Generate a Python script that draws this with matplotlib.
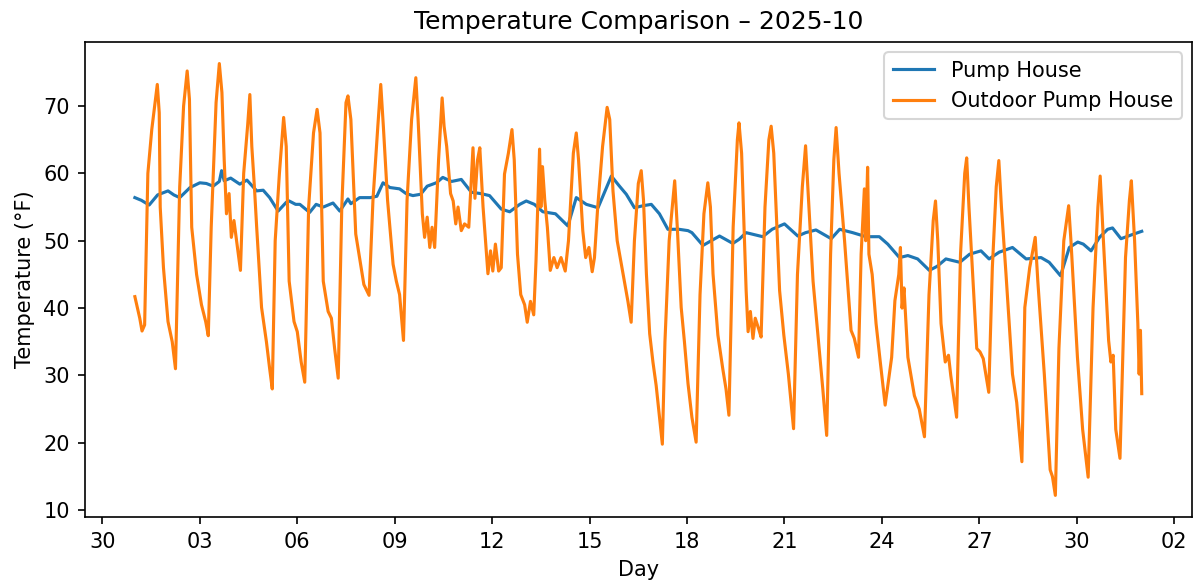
import pandas as pd
import matplotlib
matplotlib.use('Agg')
import matplotlib.pyplot as plt
import matplotlib.dates as mdates

# Readings, as days since 2025-10-01 00:00 and temperature in F
pump_day = [0.00, 0.20, 0.44, 0.70, 1.02, 1.20, 1.38, 1.70, 2.00, 2.20, 2.41, 2.60, 2.67, 2.75, 2.95,
            3.23, 3.45, 3.75, 3.95, 4.15, 4.41, 4.66, 4.75, 4.95, 5.08, 5.38, 5.58, 5.80, 6.10, 6.31,
            6.56, 6.65, 6.92, 7.25, 7.45, 7.64, 7.85, 8.15, 8.35, 8.56, 8.80, 9.00, 9.28, 9.48, 9.75,
            10.05, 10.36, 10.65, 10.92, 11.28, 11.54, 11.85, 12.05, 12.30, 12.56, 12.95, 13.33, 13.59,
            13.90, 14.26, 14.67, 14.92, 15.13, 15.38, 15.65, 15.90, 16.15, 16.41, 16.75, 17.03, 17.15,
            17.49, 18.00, 18.41, 18.60, 18.82, 19.33, 19.62, 20.00, 20.41, 20.65, 20.97, 21.44, 21.70,
            22.10, 22.51, 22.92, 23.18, 23.54, 23.80, 24.10, 24.46, 24.70, 24.97, 25.40, 25.70, 26.05,
            26.30, 26.61, 27.02, 27.44, 27.90, 28.15, 28.50, 28.77, 29.03, 29.20, 29.44, 29.70, 29.95,
            30.10, 30.36, 30.70, 31.00]
pump_temp = [56.4, 56.0, 55.3, 56.8, 57.4, 56.8, 56.4, 57.9, 58.6, 58.5, 58.1, 58.8, 60.4, 58.9, 59.3,
             58.4, 59.0, 57.4, 57.5, 56.4, 54.4, 55.7, 55.9, 55.4, 55.4, 54.2, 55.4, 55.0, 55.6, 54.4,
             56.2, 55.5, 56.4, 56.4, 56.6, 58.6, 57.9, 57.7, 57.0, 56.7, 56.9, 58.1, 58.6, 59.4, 58.8,
             59.1, 57.2, 57.0, 56.7, 54.7, 54.3, 55.4, 55.9, 55.4, 54.3, 54.0, 52.2, 56.4,
             55.4, 54.9, 59.6, 58.1, 56.9, 54.9, 55.2, 55.4, 54.0, 51.7, 51.7, 51.5, 51.2,
             49.3, 50.7, 49.6, 50.2, 51.2, 50.6, 51.7, 52.5, 50.7, 51.2, 51.6, 50.3, 51.7,
             51.2, 50.6, 50.6, 49.5, 47.5, 47.8, 47.3, 45.6, 46.2, 47.3, 46.8, 48.0, 48.5,
             47.3, 48.3, 49.0, 47.3, 47.5, 46.8, 44.8, 49.0, 49.8, 49.5, 48.5, 50.5, 51.7,
             51.9, 50.3, 50.9, 51.4]

outdoor_day = [0.00, 0.08, 0.15, 0.22, 0.30, 0.40, 0.52, 0.62, 0.69, 0.75, 0.78, 0.88, 1.02, 1.15, 1.25,
               1.38, 1.50, 1.61, 1.68, 1.75, 1.90, 2.05, 2.18, 2.26, 2.35, 2.50, 2.60, 2.68, 2.75, 2.82,
               2.90, 2.97, 3.05, 3.13, 3.25, 3.35, 3.47, 3.54, 3.60, 3.68, 3.75, 3.90, 4.05, 4.15, 4.23,
               4.32, 4.45, 4.58, 4.66, 4.75, 4.90, 5.00, 5.12, 5.23, 5.35, 5.50, 5.61, 5.70, 5.80, 5.95,
               6.05, 6.15, 6.26, 6.37, 6.50, 6.56, 6.65, 6.80, 6.90, 7.05, 7.21, 7.33, 7.48, 7.57, 7.65,
               7.78, 7.95, 8.05, 8.15, 8.27, 8.38, 8.52, 8.65, 8.72, 8.85, 8.92, 9.00, 9.08, 9.15, 9.23,
               9.35, 9.46, 9.52, 9.60, 9.72, 9.80, 9.88, 9.95, 10.05, 10.15, 10.28, 10.41, 10.47, 10.55,
               10.62, 10.72, 10.87, 10.95, 11.02, 11.10, 11.20, 11.28, 11.38, 11.50, 11.61, 11.68, 11.78,
               11.88, 12.00, 12.08, 12.18, 12.28, 12.35, 12.46, 12.50, 12.55, 12.62, 12.70, 12.79, 12.90,
               13.00, 13.12, 13.25, 13.35, 13.50, 13.59, 13.66, 13.79, 13.88, 13.98, 14.08, 14.15, 14.25,
               14.40, 14.54, 14.62, 14.72, 14.85, 15.03, 15.18, 15.28, 15.38, 15.50, 15.59, 15.66, 15.75,
               15.85, 15.95, 16.05, 16.15, 16.24, 16.32, 16.45, 16.62, 16.70, 16.82, 16.92, 17.03, 17.15,
               17.28, 17.40, 17.52, 17.64, 17.72, 17.80, 17.95, 18.10, 18.20, 18.29, 18.42, 18.55, 18.60,
               18.68, 18.82, 18.88, 18.95, 19.03, 19.10, 19.20, 19.28, 19.40, 19.52, 19.59, 19.67, 19.85,
               19.98, 20.12, 20.28, 20.40, 20.55, 20.65, 20.73, 20.88, 21.05, 21.18, 21.30, 21.42, 21.52,
               21.59, 21.68, 21.85, 22.00, 22.05, 22.15, 22.28, 22.36, 22.46, 22.50, 22.56, 22.60, 22.70,
               22.82, 22.95, 23.10, 23.30, 23.40, 23.52, 23.57, 23.62, 23.68, 23.80, 24.00, 24.15, 24.31,
               24.45, 24.58, 24.65, 24.72, 24.82, 24.95, 25.05, 25.12, 25.30, 25.42, 25.55, 25.61, 25.68,
               25.85, 25.92, 26.02, 26.12, 26.29, 26.40, 26.52, 26.60, 26.68, 26.82, 27.02, 27.15, 27.31,
               27.40, 27.55, 27.72, 27.80, 28.00, 28.18, 28.25, 28.34, 28.45, 28.60, 28.75, 28.82, 29.02,
               29.18, 29.35, 29.50, 29.65, 29.72, 29.82, 29.98, 30.05, 30.12, 30.20, 30.33, 30.50, 30.62,
               30.68, 30.78, 30.88, 30.92, 30.96, 31.00]
outdoor_temp = [41.7, 40.0, 38.5, 36.6, 37.5, 60.0, 66.5, 70.5, 73.2, 69.0, 55.0, 46.0, 38.0, 35.0, 31.0,
                58.0, 70.0, 75.2, 71.0, 52.0, 45.0, 40.5, 38.0, 35.9, 52.0, 70.5, 76.3, 72.0, 62.0, 54.0,
                57.0, 50.5, 53.0, 50.0, 45.6, 60.0, 67.0, 71.7, 64.0, 58.0, 52.0, 40.1, 35.0, 31.0, 28.0,
                50.0, 60.0, 68.3, 64.0, 44.0, 38.0, 36.5, 32.0, 29.0, 55.0, 66.0, 69.5, 66.0, 44.0, 39.5,
                38.5, 34.0, 29.6, 55.0, 70.5, 71.5, 68.0, 51.0, 48.0, 43.5, 41.9, 56.0, 67.0, 73.2, 67.0,
                56.0, 46.5, 44.0, 42.0, 35.2, 56.0, 68.0, 74.2, 68.0, 54.0, 50.5, 53.5, 49.0, 52.0, 49.0,
                62.0, 71.2, 67.0, 64.0, 57.0, 55.9, 52.5, 55.0, 51.5, 52.5, 52.0, 63.8, 56.3, 62.0,
                63.8, 55.0, 45.1, 48.5, 45.5, 49.5, 45.5, 46.0, 59.9, 63.0, 66.5, 62.0, 48.0,
                42.0, 40.5, 37.9, 41.0, 39.0, 47.0, 63.6, 55.0, 61.0, 56.0, 52.0, 45.6, 47.5,
                46.0, 47.5, 45.5, 50.0, 63.0, 66.0, 62.0, 51.5, 47.5, 49.0, 45.4, 47.5, 55.0,
                64.0, 69.8, 68.0, 57.4, 50.0, 45.1, 41.0, 37.9, 50.0, 58.5, 60.4, 56.0, 45.0,
                36.2, 32.0, 28.5, 24.0, 19.8, 35.0, 50.0, 58.9, 52.0, 40.1, 35.0, 28.8, 23.8,
                20.1, 42.0, 54.0, 58.6, 55.0, 45.1, 36.0, 31.0, 28.0, 24.1, 52.0, 65.0, 67.5,
                63.0, 42.6, 36.5, 39.5, 35.5, 38.5, 37.0, 35.7, 55.0, 65.0, 67.0, 63.0, 42.6,
                36.0, 30.2, 22.1, 45.0, 58.0, 64.1, 57.0, 44.0, 35.0, 28.0, 21.1, 48.0, 62.0,
                66.8, 60.0, 50.0, 40.0, 36.7, 35.5, 32.7, 48.0, 57.7, 50.0, 60.9, 48.0, 45.0,
                37.7, 32.0, 25.6, 32.7, 41.1, 45.0, 49.0, 40.0, 43.0, 32.7, 27.0, 25.0, 20.9,
                42.0, 53.0, 55.9, 50.0, 37.7, 32.0, 33.0, 30.0, 23.8, 48.0, 60.0, 62.3, 55.0,
                40.1, 34.0, 33.5, 32.5, 27.5, 46.0, 58.0, 61.9, 55.0, 45.1, 30.2, 26.0, 17.2,
                40.1, 46.0, 50.5, 44.0, 30.2, 16.0, 15.0, 12.2, 34.0, 50.0, 55.2, 50.0, 32.7,
                22.0, 14.9, 40.0, 55.0, 59.6, 50.0, 35.2, 32.0, 33.0, 22.0, 17.7, 47.5, 56.0,
                58.9, 50.0, 37.7, 30.2, 36.7, 27.3]

start = pd.Timestamp('2025-10-01')
pump_time = start + pd.to_timedelta(pump_day, unit='D')
outdoor_time = start + pd.to_timedelta(outdoor_day, unit='D')

fig = plt.figure(figsize=(1194 / 150, 587 / 150), dpi=150)
ax = fig.add_axes([0.0708, 0.1193, 0.9276, 0.8092])

ax.plot(pump_time, pump_temp, color='tab:blue', linewidth=1.5, label='Pump House')
ax.plot(outdoor_time, outdoor_temp, color='tab:orange', linewidth=1.5, label='Outdoor Pump House')

ax.set_xticks(pd.date_range('2025-09-30', '2025-11-02', freq='3D'))
ax.xaxis.set_major_formatter(mdates.DateFormatter('%d'))
ax.set_title('Temperature Comparison \u2013 2025-10')
ax.set_xlabel('Day')
ax.set_ylabel('Temperature (\u00b0F)')
ax.legend(loc='upper right')

fig.savefig('out.png', dpi=150)
